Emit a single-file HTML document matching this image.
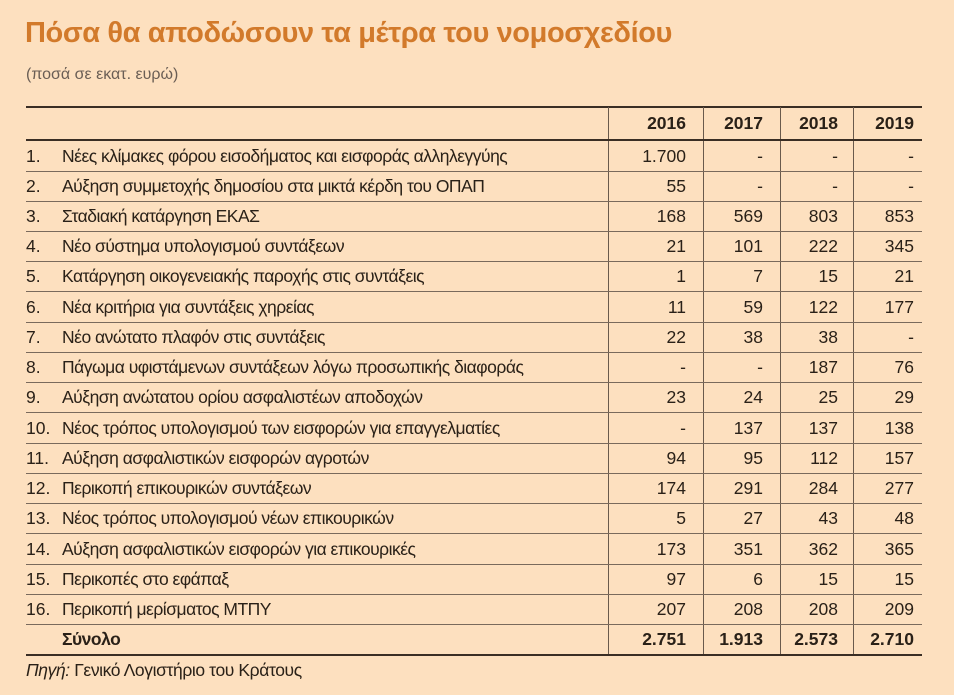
<!DOCTYPE html>
<html><head><meta charset="utf-8"><style>
body{margin:0;width:954px;height:695px;background:#fde0bf;position:relative;overflow:hidden;font-family:"Liberation Sans",sans-serif;color:#2a2118}
.t{position:absolute;left:25px;top:17px;font-weight:bold;font-size:29px;color:#d27a2b;letter-spacing:-0.4px;white-space:nowrap}
.s{position:absolute;left:26px;top:66px;font-size:16px;color:#6a5e55}
.hl{position:absolute;left:26px;width:896px;background:#3a2e24}
.row{position:absolute;left:26px;width:896px;height:30px;border-bottom:1px solid #7a6a5c;font-size:17.5px}
.row span{position:absolute;top:5px;white-space:nowrap}
.n{left:0}.l{left:36px;letter-spacing:-0.5px}
.c1{right:236px}.c2{right:159px}.c3{right:84px}.c4{right:8px}
.v{position:absolute;top:107px;height:547px;width:1px;background:#6a5a4c}
.f{position:absolute;left:26px;top:660px;font-size:17.5px;letter-spacing:-0.4px}
</style></head><body>
<div class="t">Πόσα θα αποδώσουν τα μέτρα του νομοσχεδίου</div>
<div class="s">(ποσά σε εκατ. ευρώ)</div>
<div class="hl" style="top:106px;height:2px"></div>
<div class="v" style="left:608px"></div><div class="v" style="left:703px"></div><div class="v" style="left:780px"></div><div class="v" style="left:853px"></div>
<div class="row" style="top:108px;height:31px;border-bottom:2px solid #3a2e24;font-weight:bold"><span class="c1">2016</span><span class="c2">2017</span><span class="c3">2018</span><span class="c4">2019</span></div>
<div class="row" style="top:141px"><span class="n">1.</span><span class="l">Νέες κλίμακες φόρου εισοδήματος και εισφοράς αλληλεγγύης</span><span class="c1">1.700</span><span class="c2">-</span><span class="c3">-</span><span class="c4">-</span></div>
<div class="row" style="top:171px"><span class="n">2.</span><span class="l">Αύξηση συμμετοχής δημοσίου στα μικτά κέρδη του ΟΠΑΠ</span><span class="c1">55</span><span class="c2">-</span><span class="c3">-</span><span class="c4">-</span></div>
<div class="row" style="top:201px"><span class="n">3.</span><span class="l">Σταδιακή κατάργηση ΕΚΑΣ</span><span class="c1">168</span><span class="c2">569</span><span class="c3">803</span><span class="c4">853</span></div>
<div class="row" style="top:231px"><span class="n">4.</span><span class="l">Νέο σύστημα υπολογισμού συντάξεων</span><span class="c1">21</span><span class="c2">101</span><span class="c3">222</span><span class="c4">345</span></div>
<div class="row" style="top:261px"><span class="n">5.</span><span class="l">Κατάργηση οικογενειακής παροχής στις συντάξεις</span><span class="c1">1</span><span class="c2">7</span><span class="c3">15</span><span class="c4">21</span></div>
<div class="row" style="top:292px"><span class="n">6.</span><span class="l">Νέα κριτήρια για συντάξεις χηρείας</span><span class="c1">11</span><span class="c2">59</span><span class="c3">122</span><span class="c4">177</span></div>
<div class="row" style="top:322px"><span class="n">7.</span><span class="l">Νέο ανώτατο πλαφόν στις συντάξεις</span><span class="c1">22</span><span class="c2">38</span><span class="c3">38</span><span class="c4">-</span></div>
<div class="row" style="top:352px"><span class="n">8.</span><span class="l">Πάγωμα υφιστάμενων συντάξεων λόγω προσωπικής διαφοράς</span><span class="c1">-</span><span class="c2">-</span><span class="c3">187</span><span class="c4">76</span></div>
<div class="row" style="top:382px"><span class="n">9.</span><span class="l">Αύξηση ανώτατου ορίου ασφαλιστέων αποδοχών</span><span class="c1">23</span><span class="c2">24</span><span class="c3">25</span><span class="c4">29</span></div>
<div class="row" style="top:413px"><span class="n">10.</span><span class="l">Νέος τρόπος υπολογισμού των εισφορών για επαγγελματίες</span><span class="c1">-</span><span class="c2">137</span><span class="c3">137</span><span class="c4">138</span></div>
<div class="row" style="top:443px"><span class="n">11.</span><span class="l">Αύξηση ασφαλιστικών εισφορών αγροτών</span><span class="c1">94</span><span class="c2">95</span><span class="c3">112</span><span class="c4">157</span></div>
<div class="row" style="top:473px"><span class="n">12.</span><span class="l">Περικοπή επικουρικών συντάξεων</span><span class="c1">174</span><span class="c2">291</span><span class="c3">284</span><span class="c4">277</span></div>
<div class="row" style="top:503px"><span class="n">13.</span><span class="l">Νέος τρόπος υπολογισμού νέων επικουρικών</span><span class="c1">5</span><span class="c2">27</span><span class="c3">43</span><span class="c4">48</span></div>
<div class="row" style="top:534px"><span class="n">14.</span><span class="l">Αύξηση ασφαλιστικών εισφορών για επικουρικές</span><span class="c1">173</span><span class="c2">351</span><span class="c3">362</span><span class="c4">365</span></div>
<div class="row" style="top:564px"><span class="n">15.</span><span class="l">Περικοπές στο εφάπαξ</span><span class="c1">97</span><span class="c2">6</span><span class="c3">15</span><span class="c4">15</span></div>
<div class="row" style="top:594px"><span class="n">16.</span><span class="l">Περικοπή μερίσματος ΜΤΠΥ</span><span class="c1">207</span><span class="c2">208</span><span class="c3">208</span><span class="c4">209</span></div>
<div class="row" style="top:624px;border-bottom:2px solid #3a2e24;font-weight:bold"><span class="l">Σύνολο</span><span class="c1">2.751</span><span class="c2">1.913</span><span class="c3">2.573</span><span class="c4">2.710</span></div>
<div class="f"><i>Πηγή:</i> Γενικό Λογιστήριο του Κράτους</div>
</body></html>
